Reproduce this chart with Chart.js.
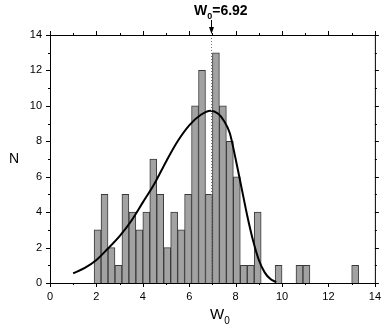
<!DOCTYPE html>
<html>
<head>
<meta charset="utf-8">
<script src="https://cdn.jsdelivr.net/npm/chart.js@4/dist/chart.umd.min.js"></script>
<style>
    html, body { margin: 0; padding: 0; background: #ffffff; }
    #wrap { width: 388px; height: 329px; position: relative; }
</style>
</head>
<body>
<div id="wrap"><canvas id="histChart"></canvas></div>
<script>
// histogram bins (centre of each 0.3 wide bin) and counts
const binCenters = [2.05, 2.35, 2.65, 2.95, 3.25, 3.55, 3.85, 4.15, 4.45, 4.75,
    5.05, 5.35, 5.65, 5.95, 6.25, 6.55, 6.85, 7.15, 7.45, 7.75,
    8.05, 8.35, 8.65, 8.95, 9.25, 9.55, 9.85, 10.15, 10.45, 10.75,
    11.05, 11.35, 11.65, 11.95, 12.25, 12.55, 12.85, 13.15];
const counts = [3, 5, 2, 1, 5, 4, 3, 4, 7, 5,
    2, 4, 3, 5, 10, 12, 5, 13, 10, 8,
    6, 1, 1, 4, 0, 0, 1, 0, 0, 1,
    1, 0, 0, 0, 0, 0, 0, 1];

// fitted curve
const curveX = [1.0, 1.5, 2.0, 2.5, 3.0, 3.5, 4.0, 4.5, 5.0, 5.5, 6.0, 6.5, 6.92,
    7.25, 7.5, 7.75, 8.0, 8.25, 8.5, 8.75, 9.0, 9.25, 9.5, 9.75];
const curveY = [0.55, 0.85, 1.3, 1.95, 2.65, 3.5, 4.55, 5.6, 6.85, 8.0, 8.9, 9.5, 9.73,
    9.55, 9.15, 8.45, 7.0, 5.4, 3.8, 2.4, 1.3, 0.6, 0.22, 0.05];

const w0 = 6.92;
const xTicks = [0, 2, 4, 6, 8, 10, 12, 14];
const yTicks = [0, 2, 4, 6, 8, 10, 12, 14];

const FONT = '"Liberation Sans", Arial, sans-serif';

function drawSubText(ctx, x, y, main, sub, rest, size, subSize, weight) {
    ctx.font = weight + ' ' + size + 'px ' + FONT;
    ctx.fillText(main, x, y);
    let cx = x + ctx.measureText(main).width;
    ctx.font = weight + ' ' + subSize + 'px ' + FONT;
    ctx.fillText(sub, cx, y + size * 0.3);
    cx += ctx.measureText(sub).width;
    if (rest) {
        ctx.font = weight + ' ' + size + 'px ' + FONT;
        ctx.fillText(rest, cx, y);
    }
}

const framePlugin = {
    id: 'frame',
    afterDatasetsDraw(chart) {
        const ctx = chart.ctx;
        const area = chart.chartArea;
        const xs = chart.scales.x;
        const ys = chart.scales.y;

        ctx.save();

        // dotted marker at W0
        const wx = Math.round(xs.getPixelForValue(w0)) + 0.5;
        ctx.strokeStyle = '#777777';
        ctx.lineWidth = 1;
        ctx.setLineDash([1, 2]);
        ctx.beginPath();
        ctx.moveTo(wx, area.top);
        ctx.lineTo(wx, area.bottom);
        ctx.stroke();
        ctx.setLineDash([]);

        // frame
        ctx.strokeStyle = '#000000';
        ctx.strokeRect(area.left + 0.5, area.top + 0.5, area.right - area.left, area.bottom - area.top);

        // ticks, outward, minor every 1
        ctx.beginPath();
        for (let v = 0; v <= 14; v++) {
            const len = v % 2 === 0 ? 4 : 2;
            const px = Math.round(xs.getPixelForValue(v)) + 0.5;
            ctx.moveTo(px, area.bottom);
            ctx.lineTo(px, area.bottom + len);
            ctx.moveTo(px, area.top);
            ctx.lineTo(px, area.top - len);
            const py = Math.round(ys.getPixelForValue(v)) + 0.5;
            ctx.moveTo(area.left, py);
            ctx.lineTo(area.left - len, py);
            ctx.moveTo(area.right, py);
            ctx.lineTo(area.right + len, py);
        }
        ctx.stroke();

        // annotation above the plot
        ctx.fillStyle = '#000000';
        ctx.textBaseline = 'alphabetic';
        ctx.textAlign = 'left';
        drawSubText(ctx, 194, 15, 'W', '0', '=6.92', 14, 9, 'bold');

        ctx.beginPath();
        ctx.moveTo(wx, 20);
        ctx.lineTo(wx, 30);
        ctx.stroke();
        ctx.beginPath();
        ctx.moveTo(wx - 2.5, 27);
        ctx.lineTo(wx + 2.5, 27);
        ctx.lineTo(wx, 34);
        ctx.closePath();
        ctx.fill();

        // axis titles
        drawSubText(ctx, 210, 319, 'W', '0', '', 15, 10, 'normal');
        ctx.font = 'normal 14px ' + FONT;
        ctx.fillText('N', 9, 163);

        ctx.restore();
    },
};

const barData = binCenters.map((c, i) => ({ x: c, y: counts[i] > 0 ? counts[i] : null }));
const curveData = curveX.map((x, i) => ({ x: x, y: curveY[i] }));

new Chart(document.getElementById('histChart'), {
    type: 'bar',
    data: {
        datasets: [
            {
                type: 'line',
                data: curveData,
                borderColor: '#000000',
                borderWidth: 2,
                pointRadius: 0,
                cubicInterpolationMode: 'monotone',
                fill: false,
                order: 0,
            },
            {
                data: barData,
                backgroundColor: '#a2a2a2',
                borderColor: '#3a3a3a',
                borderWidth: 1,
                borderSkipped: 'start',
                barPercentage: 1,
                categoryPercentage: 1,
                order: 1,
            },
        ],
    },
    options: {
        responsive: true,
        maintainAspectRatio: false,
        animation: false,
        layout: {
            padding: { top: 35, right: 5, left: 0, bottom: 0 },
        },
        plugins: {
            legend: { display: false },
            tooltip: { enabled: false },
        },
        scales: {
            x: {
                type: 'linear',
                min: 0,
                max: 14,
                offset: false,
                afterFit(scale) { scale.height = 46; },
                afterBuildTicks(scale) { scale.ticks = xTicks.map((v) => ({ value: v })); },
                ticks: {
                    color: '#000000',
                    padding: 7,
                    maxRotation: 0,
                    font: { family: FONT, size: 11 },
                },
                grid: { display: false, drawTicks: false },
                border: { display: false },
            },
            y: {
                min: 0,
                max: 14,
                afterFit(scale) { scale.width = 50; },
                afterBuildTicks(scale) { scale.ticks = yTicks.map((v) => ({ value: v })); },
                ticks: {
                    color: '#000000',
                    padding: 8,
                    font: { family: FONT, size: 11 },
                },
                grid: { display: false, drawTicks: false },
                border: { display: false },
            },
        },
    },
    plugins: [framePlugin],
});
</script>
</body>
</html>
